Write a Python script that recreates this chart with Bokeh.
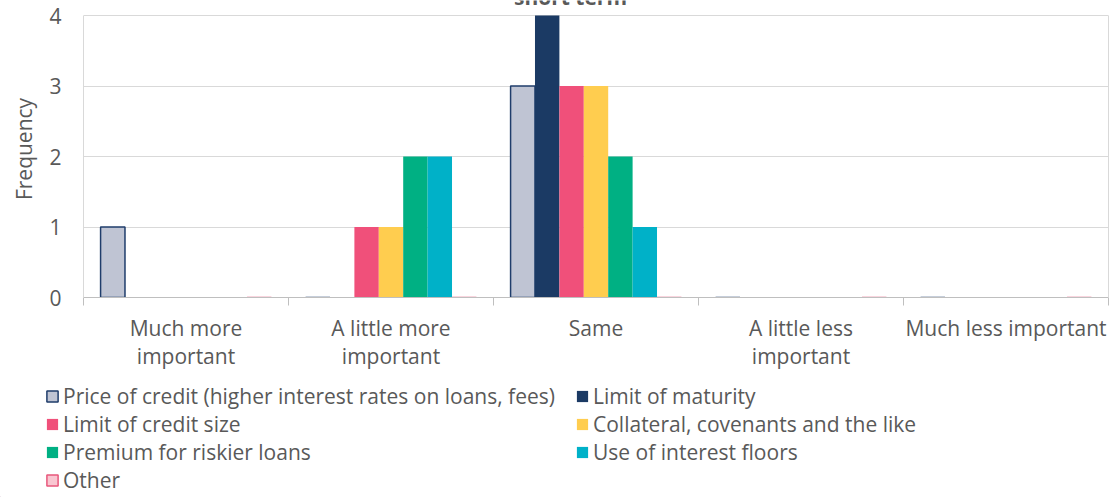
from bokeh.plotting import figure
from bokeh.layouts import column
from bokeh.models import (ColumnDataSource, Legend, LegendItem, Label, Range1d, FixedTicker,
                          LinearAxis)
from bokeh.transform import dodge
from bokeh.embed import file_html
from bokeh.resources import INLINE

categories = ["Much more important", "A little more important", "Same",
              "A little less important", "Much less important"]
tick_labels = ["Much more\nimportant", "A little more\nimportant", "Same",
               "A little less\nimportant", "Much less important"]
series = ["Price of credit (higher interest rates on loans, fees)",
          "Limit of maturity", "Limit of credit size",
          "Collateral, covenants and the like", "Premium for riskier loans",
          "Use of interest floors", "Other"]
price = [1, 0, 3, 0, 0]
maturity = [0, 0, 4, 0, 0]
credit_size = [0, 1, 3, 0, 0]
collateral = [0, 1, 3, 0, 0]
premium = [0, 2, 2, 0, 0]
floors = [0, 2, 1, 0, 0]
other = [0, 0, 0, 0, 0]
y_ticks = [0, 1, 2, 3, 4]
y_max = 4
title_text = "short term"

values = [price, maturity, credit_size, collateral, premium, floors, other]
fills = ["#bfc4d3", "#1b3a64", "#f0507a", "#ffcd4f", "#00b083", "#00b1c8", "#f9c6d1"]
lines = ["#1f3d6b", None, None, None, None, None, "#e8587c"]

FONT = "Open Sans"
FS = "21px"
TXT = "#595959"
GRID = "#d9d9d9"

FRAME_TOP_PAD = 15   # px between canvas top and the plot area (title sits there)
PLOT_H = 282
BOTTOM = 85          # space under the plot area for the category axis
LEGEND_H = 115
GAP = 1.4            # gap between category groups, in bar widths

n = len(categories)
k = len(series)
bar_w = 1.0 / (k + GAP)

src = ColumnDataSource(dict(cat=categories,
                            pos=[i + 0.5 for i in range(n)],
                            **{f"s{j}": v for j, v in enumerate(values)}))

y_range = Range1d(0, y_max * (PLOT_H + FRAME_TOP_PAD) / PLOT_H)
p = figure(x_range=Range1d(0, n), y_range=y_range, x_axis_location=None,
           frame_width=1025, frame_height=PLOT_H + FRAME_TOP_PAD,
           min_border_left=83, min_border_right=5, min_border_top=0, min_border_bottom=BOTTOM,
           output_backend="svg", toolbar_location=None)
p.background_fill_color = "white"
p.border_fill_color = "white"
p.outline_line_color = None

for j, (s, fc, lc) in enumerate(zip(series, fills, lines)):
    off = (j - (k - 1) / 2) * bar_w
    p.vbar(x=dodge("pos", off, range=p.x_range), top=f"s{j}", bottom=0, width=bar_w,
           source=src, fill_color=fc, line_color=lc, line_width=1.5 if lc else 1)

p.xgrid.grid_line_color = None
p.ygrid.ticker = FixedTicker(ticks=y_ticks)
p.ygrid.grid_line_color = GRID
p.ygrid.grid_line_width = 1

# category axis: labels centred in each category, tick marks on category boundaries
xa = LinearAxis(ticker=FixedTicker(ticks=[i + 0.5 for i in range(n)],
                                   minor_ticks=list(range(n + 1))),
                major_label_overrides={i + 0.5: t for i, t in enumerate(tick_labels)})
xa.axis_line_color = "#bfbfbf"
xa.major_tick_line_color = None
xa.major_tick_out = 0
xa.major_tick_in = 0
xa.minor_tick_line_color = "#bfbfbf"
xa.minor_tick_out = 8
xa.minor_tick_in = 0
xa.major_label_standoff = 8
xa.major_label_text_font = FONT
xa.major_label_text_font_size = FS
xa.major_label_text_color = TXT
xa.major_label_text_line_height = 1.0
p.add_layout(xa, "below")

ya = p.yaxis[0]
ya.ticker = FixedTicker(ticks=y_ticks)
ya.bounds = (0, y_max)
ya.axis_line_color = GRID
ya.major_tick_line_color = None
ya.minor_tick_line_color = None
ya.major_tick_out = 0
ya.major_label_text_font = FONT
ya.major_label_text_font_size = FS
ya.major_label_text_color = TXT
ya.major_label_standoff = 22
ya.axis_label = "Frequency"
ya.axis_label_text_font = FONT
ya.axis_label_text_font_size = FS
ya.axis_label_text_font_style = "normal"
ya.axis_label_text_color = TXT
ya.axis_label_standoff = 8

ra = LinearAxis(ticker=FixedTicker(ticks=[]), bounds=(0, y_max))
ra.axis_line_color = GRID
ra.major_tick_line_color = None
ra.minor_tick_line_color = None
ra.major_label_text_font_size = "0px"
p.add_layout(ra, "right")

title = Label(x=487, y=PLOT_H + FRAME_TOP_PAD + 4, x_units="screen", y_units="screen",
              text=title_text, text_font=FONT, text_font_style="bold", text_font_size="21px",
              text_color=TXT, text_align="center", text_baseline="alphabetic")
p.add_layout(title)

# legend strip under the chart
pl = figure(x_range=Range1d(0, 1), y_range=Range1d(0, 1), width=1113, height=LEGEND_H,
            x_axis_location=None, y_axis_location=None,
            min_border_left=0, min_border_right=0, min_border_top=0, min_border_bottom=0,
            output_backend="svg", toolbar_location=None)
pl.outline_line_color = None
pl.xgrid.visible = False
pl.ygrid.visible = False

# do not align the legend strip's frame with the chart's frame
for fig in (p, pl):
    if "frame_align" in fig.properties():
        fig.frame_align = False

# legend keys: one zero-height bar per series, outside the visible range
proxies = []
for s, fc, lc in zip(series, fills, lines):
    proxies.append(pl.vbar(x=[-1], top=[0], width=0.1, fill_color=fc, line_color=lc,
                           line_width=1.5 if lc else 1))

legend = Legend(items=[LegendItem(label=s, renderers=[r]) for s, r in zip(series, proxies)],
                orientation="horizontal", ncols=2, location=(45, 3))
legend.border_line_color = None
legend.background_fill_alpha = 0
legend.padding = 0
legend.margin = 0
legend.spacing = 0
legend.glyph_width = 14
legend.glyph_height = 14
legend.label_standoff = 4
legend.label_width = 512
legend.label_height = 22
legend.label_text_font = FONT
legend.label_text_font_size = FS
legend.label_text_color = TXT
pl.add_layout(legend)

page = column(p, pl, spacing=0)
open("out.html", "w").write(file_html(page, INLINE))
